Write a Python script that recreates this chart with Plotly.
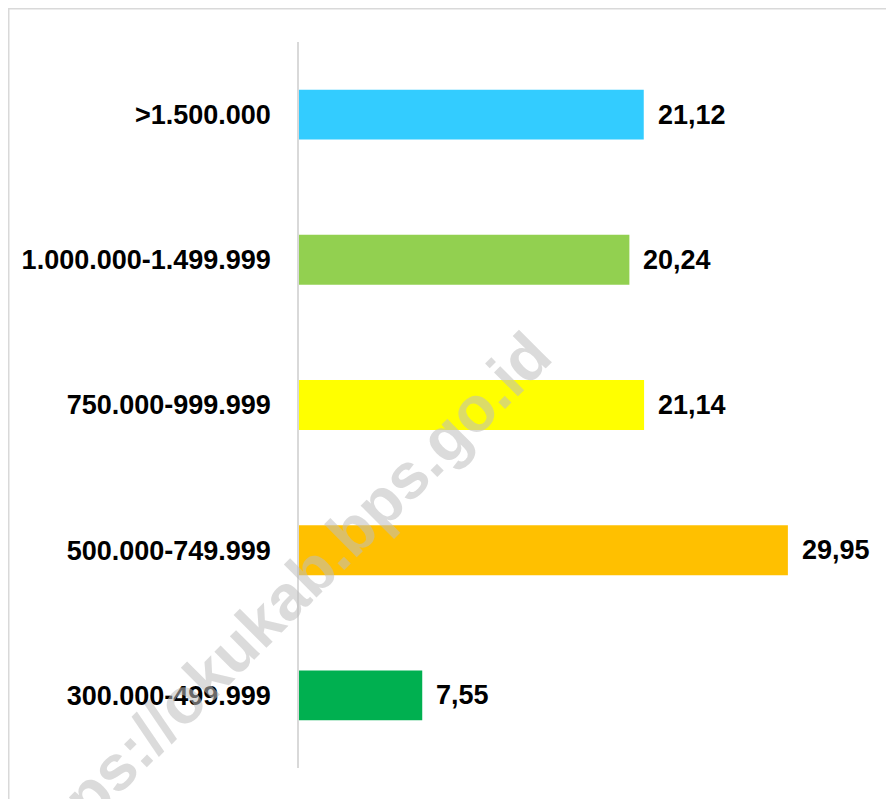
import plotly.graph_objects as go

categories = ["300.000-499.999", "500.000-749.999", "750.000-999.999",
              "1.000.000-1.499.999", ">1.500.000"]
values = [7.55, 29.95, 21.14, 20.24, 21.12]
value_labels = ["7,55", "29,95", "21,14", "20,24", "21,12"]
colors = ["#00B050", "#FFC000", "#FFFF00", "#92D050", "#33CCFF"]

W, H = 894, 799
L, R, T, B = 291, 48, 34, 39
PW, PH = W - L - R, H - T - B

def px(x):
    return (x - L) / PW

def py(y):
    return (H - B - y) / PH

FONT = "Liberation Sans, Arial, sans-serif"

fig = go.Figure()
fig.add_trace(go.Bar(
    y=categories, x=values, orientation="h",
    marker=dict(color=colors, line=dict(width=0)),
    hoverinfo="skip",
))

annotations = []
for c, v, t in zip(categories, values, value_labels):
    annotations.append(dict(
        x=v, y=c, xref="x", yref="y", text=t, showarrow=False,
        xanchor="left", yanchor="middle", xshift=12,
        font=dict(family=FONT, size=27, color="#000000", weight="bold"),
    ))

# watermark
annotations.append(dict(
    x=px(270), y=py(597), xref="paper", yref="paper",
    text="https://okukab.bps.go.id", showarrow=False, textangle=-45,
    xanchor="center", yanchor="middle",
    font=dict(family="Liberation Sans, Arial, sans-serif", size=64,
              color="rgba(190,190,190,0.55)", weight="bold"),
))

fig.update_layout(
    width=W, height=H,
    margin=dict(l=L, r=R, t=T, b=B, autoexpand=False),
    paper_bgcolor="white", plot_bgcolor="white",
    showlegend=False,
    bargap=0.656,
    annotations=annotations,
    xaxis=dict(visible=False, range=[0, 34], fixedrange=True),
    yaxis=dict(
        categoryorder="array", categoryarray=categories,
        showline=True, linecolor="#d9d9d9", linewidth=1.5,
        showgrid=False, zeroline=False, ticks="",
        ticklabelstandoff=21, automargin=False,
        tickfont=dict(family=FONT, size=27, color="#000000", weight="bold"),
        fixedrange=True,
    ),
    shapes=[dict(
        type="rect", xref="paper", yref="paper",
        x0=px(0), x1=px(W + 10), y0=py(H + 10), y1=py(0),
        line=dict(color="#d9d9d9", width=3), fillcolor="rgba(0,0,0,0)",
        layer="below",
    )],
)

fig.write_html("out.html")
